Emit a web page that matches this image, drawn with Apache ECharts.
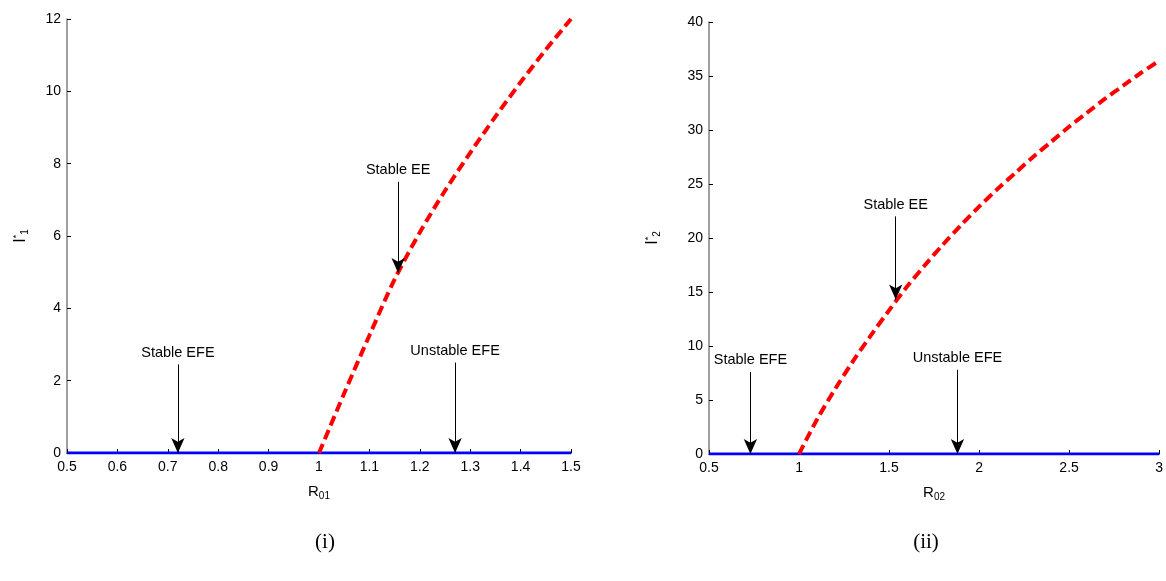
<!DOCTYPE html>
<html>
<head>
<meta charset="utf-8">
<script src="https://cdn.jsdelivr.net/npm/echarts@6/dist/echarts.min.js"></script>
<style>
  html, body { margin: 0; padding: 0; background: #fff; }
  #chart { width: 1166px; height: 581px; }
</style>
</head>
<body>
<div id="chart"></div>
<script>
// Panel (i): I1* vs R01
const r01Line = [0.5, 1.5];
const r01Curve = [1.0, 1.05, 1.1, 1.15, 1.2, 1.25, 1.3, 1.35, 1.4, 1.45, 1.5];
const i1Curve = [0, 1.65, 3.25, 4.8, 6.1, 7.25, 8.3, 9.3, 10.25, 11.15, 12.0];

// Panel (ii): I2* vs R02
const r02Line = [0.5, 3];
const r02Curve = [1.0, 1.1, 1.2, 1.3, 1.4, 1.5, 1.6, 1.7, 1.8, 1.9, 2.0, 2.1, 2.2, 2.3, 2.4, 2.5, 2.6, 2.7, 2.8, 2.9, 3.0];
const i2Curve = [0, 3.2, 6.0, 8.6, 11.0, 13.3, 15.5, 17.5, 19.4, 21.2, 22.9, 24.5, 26.0, 27.5, 28.9, 30.3, 31.6, 32.9, 34.1, 35.3, 36.4];

// annotations: [label, x, yStart, yTip]
const notes1 = [
    ['Stable EFE', 0.72, 2.45, 0],
    ['Unstable EFE', 1.27, 2.5, 0],
    ['Stable EE', 1.157, 7.5, 4.98]
];
const notes2 = [
    ['Stable EFE', 0.73, 7.6, 0],
    ['Unstable EFE', 1.88, 7.8, 0],
    ['Stable EE', 1.537, 22.0, 14.3]
];

const font = 'Liberation Sans, Arial, sans-serif';

function pairs(xs, ys) {
    return xs.map((x, i) => [x, ys[i]]);
}

function arrows(notes) {
    return notes.map(n => [
        {
            coord: [n[1], n[2]],
            symbol: 'none',
            label: {
                show: true,
                position: 'start',
                formatter: n[0],
                color: '#000',
                fontSize: 14.5,
                fontFamily: font,
                distance: 4
            }
        },
        { coord: [n[1], n[3]], symbol: 'arrow', symbolSize: [10, 15] }
    ]);
}

function xAxisFor(idx, min, max, interval, sub) {
    return {
        type: 'value', gridIndex: idx, min: min, max: max, interval: interval,
        name: '{r|R}{s|' + sub + '}', nameLocation: 'middle', nameGap: 30,
        nameTextStyle: {
            rich: {
                r: { fontSize: 15, fontFamily: font, color: '#000' },
                s: { fontSize: 10, fontFamily: font, color: '#000', verticalAlign: 'bottom', padding: [8, 0, 0, 0] }
            }
        },
        splitLine: { show: false },
        axisLine: { lineStyle: { color: '#000', width: 1 } },
        axisTick: { inside: true, length: 4, lineStyle: { color: '#000' } },
        axisLabel: { color: '#000', fontSize: 14, fontFamily: font, margin: 7 }
    };
}

function yAxisFor(idx, max, interval, sub, gap) {
    return {
        type: 'value', gridIndex: idx, min: 0, max: max, interval: interval,
        name: '{i|I}{p|*}{s|' + sub + '}', nameLocation: 'middle', nameGap: gap,
        nameTextStyle: {
            rich: {
                i: { fontSize: 16, fontFamily: font, color: '#000' },
                p: { fontSize: 9, fontFamily: font, color: '#000', padding: [0, 0, 8, 0] },
                s: { fontSize: 10, fontFamily: font, color: '#000', padding: [8, 0, 0, 0] }
            }
        },
        splitLine: { show: false },
        axisLine: { show: true, lineStyle: { color: '#808080', width: 1.5 } },
        axisTick: { show: true, inside: true, length: 4, lineStyle: { color: '#000' } },
        axisLabel: { color: '#000', fontSize: 14, fontFamily: font, margin: 6 }
    };
}

const chart = echarts.init(document.getElementById('chart'));

const option = {
    animation: false,
    backgroundColor: '#fff',
    title: [
        { text: '(i)', left: 320, top: 527, textAlign: 'center',
          textStyle: { fontFamily: 'Liberation Serif, Times New Roman, serif', fontSize: 21, fontWeight: 'normal', color: '#000' } },
        { text: '(ii)', left: 921, top: 527, textAlign: 'center',
          textStyle: { fontFamily: 'Liberation Serif, Times New Roman, serif', fontSize: 21, fontWeight: 'normal', color: '#000' } }
    ],
    grid: [
        { left: 67, top: 19, width: 504, height: 434 },
        { left: 709, top: 22, width: 453, height: 432 }
    ],
    xAxis: [
        xAxisFor(0, 0.5, 1.5, 0.1, '01'),
        xAxisFor(1, 0.5, 3, 0.5, '02')
    ],
    yAxis: [
        yAxisFor(0, 12, 2, '1', 37),
        yAxisFor(1, 40, 5, '2', 47)
    ],
    series: [
        {
            type: 'line', xAxisIndex: 0, yAxisIndex: 0, symbol: 'none',
            data: pairs(r01Line, [0, 0]),
            lineStyle: { color: '#0000ff', width: 3 },
            z: 3
        },
        {
            type: 'line', xAxisIndex: 0, yAxisIndex: 0, symbol: 'none', smooth: 0.3,
            data: pairs(r01Curve, i1Curve),
            lineStyle: { color: '#ff0000', width: 4, type: [10, 5] },
            markLine: {
                silent: true,
                lineStyle: { color: '#000', width: 1, type: 'solid' },
                data: arrows(notes1)
            },
            z: 4
        },
        {
            type: 'line', xAxisIndex: 1, yAxisIndex: 1, symbol: 'none',
            data: pairs(r02Line, [0, 0]),
            lineStyle: { color: '#0000ff', width: 3 },
            z: 3
        },
        {
            type: 'line', xAxisIndex: 1, yAxisIndex: 1, symbol: 'none', smooth: 0.3,
            data: pairs(r02Curve, i2Curve),
            lineStyle: { color: '#ff0000', width: 4, type: [10, 5] },
            markLine: {
                silent: true,
                lineStyle: { color: '#000', width: 1, type: 'solid' },
                data: arrows(notes2)
            },
            z: 4
        }
    ]
};

chart.setOption(option);
</script>
</body>
</html>
